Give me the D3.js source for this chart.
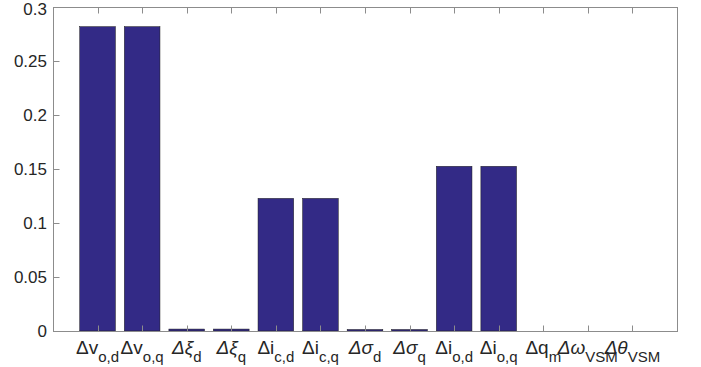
<!DOCTYPE html>
<html>
<head>
<meta charset="utf-8">
<script src="https://cdn.jsdelivr.net/npm/d3@7"></script>
<style>
	body { margin: 0; background: #fff; }
	text { font-family: "Liberation Sans", Arial, sans-serif; fill: #262626; }
</style>
</head>
<body>
<div id="chart"></div>
<script>
// state names (base symbol + subscript) and bar values
let labelBase = ['\u0394v', '\u0394v', '\u0394\u03be', '\u0394\u03be', '\u0394i', '\u0394i', '\u0394\u03c3', '\u0394\u03c3', '\u0394i', '\u0394i', '\u0394q', '\u0394\u03c9', '\u0394\u03b8'];
let labelSub = ['o,d', 'o,q', 'd', 'q', 'c,d', 'c,q', 'd', 'q', 'o,d', 'o,q', 'm', 'VSM', 'VSM'];
let values = [0.2818, 0.2818, 0.0018, 0.0018, 0.1228, 0.1228, 0.0014, 0.0014, 0.1525, 0.1525, 0, 0, 0];
let yTicks = [0, 0.05, 0.1, 0.15, 0.2, 0.25, 0.3];

let width = 701, height = 367;
let padL = 53, padR = 677, padT = 7, padB = 331;

let svg = d3.select('#chart').append('svg')
	.attr('width', width)
	.attr('height', height);

let x = d3.scaleLinear()
	.domain([0, values.length + 1])
	.range([padL, padR]);

let y = d3.scaleLinear()
	.domain([0, 0.3])
	.range([padB, padT]);

let barW = x(0.8) - x(0);
let axisCol = '#8c8c8c';

svg.append('g')
	.selectAll('rect')
	.data(values)
	.enter()
	.append('rect')
	.attr('x', (d,i) => x(i + 1) - barW/2)
	.attr('y', d => y(d))
	.attr('width', barW)
	.attr('height', d => y(0) - y(d))
	.attr('fill', '#332a86')
	.attr('stroke', '#1a1a1a')
	.attr('stroke-width', 0.5)
;

// box
svg.append('rect')
	.attr('x', padL + 0.5)
	.attr('y', padT + 0.5)
	.attr('width', padR - padL)
	.attr('height', padB - padT)
	.attr('fill', 'none')
	.attr('stroke', axisCol)
	.attr('stroke-width', 1)
;

let tickLen = 6;

// y ticks (inside, left only)
svg.append('g')
	.selectAll('line')
	.data(yTicks)
	.enter()
	.append('line')
	.attr('x1', padL + 0.5)
	.attr('x2', padL + 0.5 + tickLen)
	.attr('y1', d => Math.round(y(d)) + 0.5)
	.attr('y2', d => Math.round(y(d)) + 0.5)
	.attr('stroke', axisCol)
;

svg.append('g')
	.selectAll('text')
	.data(yTicks)
	.enter()
	.append('text')
	.attr('x', padL - 6)
	.attr('y', d => Math.max(y(d) + 6, 15))
	.attr('text-anchor', 'end')
	.style('font-size', '17px')
	.text(d => d)
;

// x ticks, bottom and top
let xIdx = d3.range(1, values.length + 1);

svg.append('g')
	.selectAll('line')
	.data(xIdx)
	.enter()
	.append('line')
	.attr('x1', d => Math.round(x(d)) + 0.5)
	.attr('x2', d => Math.round(x(d)) + 0.5)
	.attr('y1', padB + 0.5)
	.attr('y2', padB + 0.5 - tickLen)
	.attr('stroke', axisCol)
;

svg.append('g')
	.selectAll('line')
	.data(xIdx)
	.enter()
	.append('line')
	.attr('x1', d => Math.round(x(d)) + 0.5)
	.attr('x2', d => Math.round(x(d)) + 0.5)
	.attr('y1', padT + 0.5)
	.attr('y2', padT + 0.5 + tickLen)
	.attr('stroke', axisCol)
;

let lab = svg.append('g')
	.selectAll('text')
	.data(labelBase)
	.enter()
	.append('text')
	.attr('x', (d,i) => x(i + 1))
	.attr('y', 354)
	.attr('text-anchor', 'middle')
	.style('font-size', '19px')
;

lab.append('tspan')
	.style('font-style', (d,i) => (i == 2 || i == 3 || i == 6 || i == 7 || i == 11 || i == 12) ? 'italic' : 'normal')
	.text(d => d)
;

lab.append('tspan')
	.attr('dy', 8)
	.style('font-size', '15px')
	.text((d,i) => labelSub[i])
;
</script>
</body>
</html>
